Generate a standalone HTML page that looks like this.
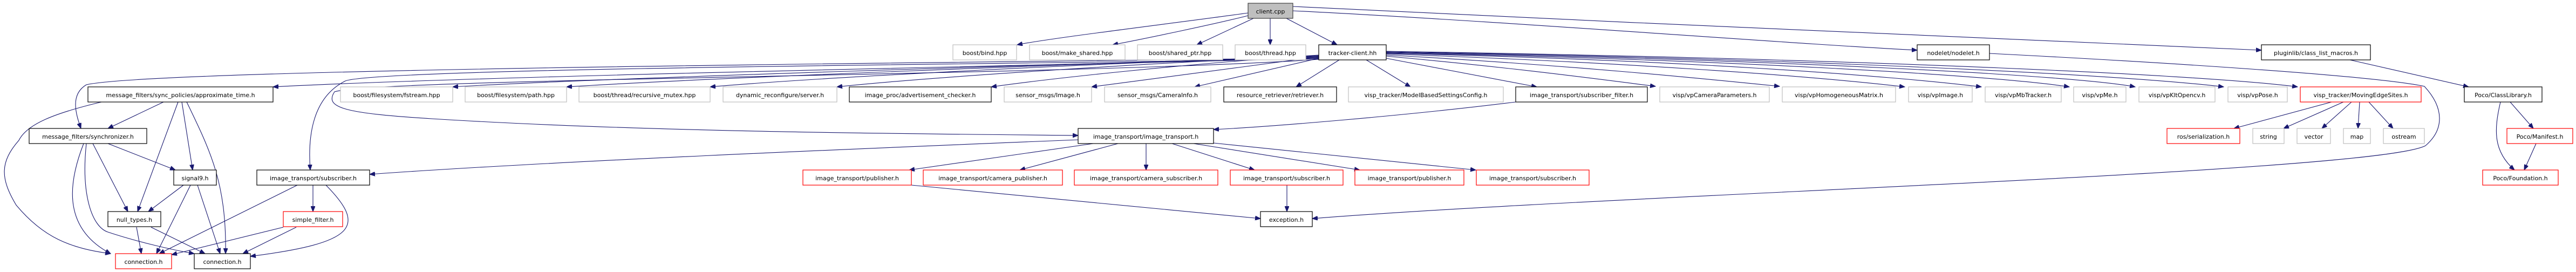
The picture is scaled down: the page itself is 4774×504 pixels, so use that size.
<!DOCTYPE html>
<html><head><meta charset="utf-8"><style>
html,body{margin:0;padding:0;background:#fff;width:4774px;height:504px;overflow:hidden}
svg{display:block}
text{font-family:"DejaVu Sans","Liberation Sans",sans-serif;font-size:11px;fill:#000}
.g{fill:#fff;stroke:#bfbfbf;stroke-width:1.2}
.b{fill:#fff;stroke:#000;stroke-width:1.2}
.r{fill:#fff;stroke:#ff0000;stroke-width:1.2}
.c{fill:#bfbfbf;stroke:#404040;stroke-width:1.2}
.e path{fill:none;stroke:#191970;stroke-width:1.1;marker-end:url(#a)}
</style></head><body>
<svg width="4774" height="504" viewBox="0 0 4774 504" xmlns="http://www.w3.org/2000/svg">
<defs><marker id="a" markerUnits="userSpaceOnUse" markerWidth="11" markerHeight="8" refX="10" refY="4" orient="auto"><path d="M0,0 L10,4 L0,8 z" fill="#191970" stroke="#191970"/></marker></defs>
<g class="e">
<!-- client.cpp -->
<path d="M2313,24 C2200,40 1950,70 1885,83"/>
<path d="M2313,29 C2250,45 2120,72 2062,83"/>
<path d="M2323,34 L2218,83"/>
<path d="M2354,34 L2354,83"/>
<path d="M2384,34 L2478,83"/>
<path d="M2396,20 C2800,40 3300,80 3553,93"/>
<path d="M2396,12 C3000,40 3800,80 4191,93"/>
<!-- tracker-client left -->
<path d="M2444,108 C2000,120 900,140 506,161"/>
<path d="M2444,107 C2000,115 300,125 160,157 C130,175 140,210 150,238"/>
<path d="M2444,109 C2000,118 700,125 640,150 C580,180 570,250 575,315"/>
<path d="M2444,110 C2000,140 700,145 620,170 C600,200 640,210 800,220 C1200,245 1700,248 1998,251"/>
<path d="M2444,106 C2000,118 1100,145 839,161"/>
<path d="M2444,105 C2000,118 1300,145 1050,161"/>
<path d="M2444,104 C2000,118 1500,145 1316,161"/>
<path d="M2444,103 C2100,118 1700,145 1551,161"/>
<path d="M2444,102 C2200,118 1950,145 1837,161"/>
<path d="M2444,105 C2300,125 2100,150 2023,161"/>
<path d="M2444,108 C2350,130 2260,150 2214,161"/>
<path d="M2482,111 L2402,161"/>
<path d="M2532,111 L2614,161"/>
<path d="M2569,108 L2848,161"/>
<path d="M2569,104 C2800,125 2950,145 3068,160"/>
<path d="M2569,102 C2900,120 3150,145 3298,160"/>
<path d="M2569,100 C3000,115 3350,140 3530,161"/>
<path d="M2569,99 C3100,110 3500,140 3672,161"/>
<path d="M2569,98 C3200,110 3700,140 3835,161"/>
<path d="M2569,97 C3300,110 3850,140 3957,161"/>
<path d="M2569,96 C3400,110 3950,140 4121,161"/>
<path d="M2569,95 C3500,110 4100,140 4258,161"/>
<!-- nodelet -> exception -->
<path d="M3687,99 C4000,115 4400,140 4493,160 C4530,200 4530,240 4495,270 C4400,320 3000,360 2432,405"/>
<!-- pluginlib / Poco -->
<path d="M4355,111 L4575,161"/>
<path d="M4652,189 L4695,238"/>
<path d="M4634,189 C4622,240 4620,280 4660,315"/>
<path d="M4700,266 L4678,315"/>
<!-- MovingEdgeSites -->
<path d="M4321,189 L4140,238"/>
<path d="M4343,189 L4232,238"/>
<path d="M4358,189 L4303,238"/>
<path d="M4373,189 L4370,238"/>
<path d="M4390,189 L4435,238"/>
<!-- image_transport -->
<path d="M2809,189 C2600,215 2350,235 2249,240"/>
<path d="M2026,266 L1685,315"/>
<path d="M2072,266 L1890,315"/>
<path d="M2124,266 L2124,315"/>
<path d="M2172,266 L2325,315"/>
<path d="M2212,266 L2520,315"/>
<path d="M2249,265 L2735,315"/>
<path d="M1998,259 C1600,275 1000,300 685,323"/>
<path d="M1689,343 L2336,405"/>
<path d="M2385,343 L2385,392"/>
<!-- left cluster -->
<path d="M303,189 L200,238"/>
<path d="M330,189 L255,392"/>
<path d="M337,189 L357,315"/>
<path d="M346,189 C390,280 420,340 418,470"/>
<path d="M188,189 C100,210 50,230 35,260 C0,300 0,330 30,380 C80,440 130,460 205,470"/>
<path d="M200,266 L325,315"/>
<path d="M172,266 L237,392"/>
<path d="M155,266 C130,330 110,420 205,470"/>
<path d="M160,266 C150,360 170,420 200,430 C260,450 330,465 360,470"/>
<path d="M340,343 L275,392"/>
<path d="M353,343 L290,470"/>
<path d="M366,343 L408,470"/>
<path d="M253,421 L262,470"/>
<path d="M280,421 L380,470"/>
<path d="M580,343 L580,392"/>
<path d="M551,343 L295,470"/>
<path d="M604,343 C680,420 660,450 464,475"/>
<path d="M525,421 L318,472"/>
<path d="M549,421 L450,470"/>
</g>
<g text-anchor="middle">
<rect class="c" x="2313" y="6" width="83" height="28"/><text x="2354.5" y="25">client.cpp</text>
<rect class="g" x="1766" y="83" width="118" height="28"/><text x="1825" y="102">boost/bind.hpp</text>
<rect class="g" x="1908" y="83" width="177" height="28"/><text x="1996.5" y="102">boost/make_shared.hpp</text>
<rect class="g" x="2108" y="83" width="158" height="28"/><text x="2187" y="102">boost/shared_ptr.hpp</text>
<rect class="g" x="2289" y="83" width="131" height="28"/><text x="2354.5" y="102">boost/thread.hpp</text>
<rect class="b" x="2444" y="83" width="125" height="28"/><text x="2506.5" y="102">tracker-client.hh</text>
<rect class="b" x="3553" y="83" width="134" height="28"/><text x="3620" y="102">nodelet/nodelet.h</text>
<rect class="b" x="4191" y="83" width="202" height="28"/><text x="4292" y="102">pluginlib/class_list_macros.h</text>

<rect class="b" x="163" y="161" width="343" height="28"/><text x="334.5" y="180">message_filters/sync_policies/approximate_time.h</text>
<rect class="g" x="631" y="161" width="208" height="28"/><text x="735" y="180">boost/filesystem/fstream.hpp</text>
<rect class="g" x="862" y="161" width="188" height="28"/><text x="956" y="180">boost/filesystem/path.hpp</text>
<rect class="g" x="1073" y="161" width="243" height="28"/><text x="1194.5" y="180">boost/thread/recursive_mutex.hpp</text>
<rect class="g" x="1340" y="161" width="211" height="28"/><text x="1445.5" y="180">dynamic_reconfigure/server.h</text>
<rect class="b" x="1574" y="161" width="263" height="28"/><text x="1705.5" y="180">image_proc/advertisement_checker.h</text>
<rect class="g" x="1861" y="161" width="162" height="28"/><text x="1942" y="180">sensor_msgs/Image.h</text>
<rect class="g" x="2047" y="161" width="197" height="28"/><text x="2145.5" y="180">sensor_msgs/CameraInfo.h</text>
<rect class="b" x="2268" y="161" width="209" height="28"/><text x="2372.5" y="180">resource_retriever/retriever.h</text>
<rect class="g" x="2499" y="161" width="287" height="28"/><text x="2642.5" y="180">visp_tracker/ModelBasedSettingsConfig.h</text>
<rect class="b" x="2809" y="161" width="244" height="28"/><text x="2931" y="180">image_transport/subscriber_filter.h</text>
<rect class="g" x="3076" y="161" width="203" height="28"/><text x="3177.5" y="180">visp/vpCameraParameters.h</text>
<rect class="g" x="3303" y="161" width="210" height="28"/><text x="3408" y="180">visp/vpHomogeneousMatrix.h</text>
<rect class="g" x="3537" y="161" width="118" height="28"/><text x="3596" y="180">visp/vpImage.h</text>
<rect class="g" x="3679" y="161" width="141" height="28"/><text x="3749.5" y="180">visp/vpMbTracker.h</text>
<rect class="g" x="3843" y="161" width="97" height="28"/><text x="3891.5" y="180">visp/vpMe.h</text>
<rect class="g" x="3964" y="161" width="141" height="28"/><text x="4034.5" y="180">visp/vpKltOpencv.h</text>
<rect class="g" x="4129" y="161" width="110" height="28"/><text x="4184" y="180">visp/vpPose.h</text>
<rect class="r" x="4263" y="161" width="224" height="28"/><text x="4375" y="180">visp_tracker/MovingEdgeSites.h</text>
<rect class="b" x="4567" y="161" width="144" height="28"/><text x="4639" y="180">Poco/ClassLibrary.h</text>

<rect class="b" x="54" y="238" width="218" height="28"/><text x="163" y="257">message_filters/synchronizer.h</text>
<rect class="b" x="1998" y="238" width="251" height="28"/><text x="2123.5" y="257">image_transport/image_transport.h</text>
<rect class="r" x="4016" y="238" width="135" height="28"/><text x="4083.5" y="257">ros/serialization.h</text>
<rect class="g" x="4175" y="238" width="58" height="28"/><text x="4204" y="257">string</text>
<rect class="g" x="4257" y="238" width="62" height="28"/><text x="4288" y="257">vector</text>
<rect class="g" x="4343" y="238" width="50" height="28"/><text x="4368" y="257">map</text>
<rect class="g" x="4417" y="238" width="76" height="28"/><text x="4455" y="257">ostream</text>
<rect class="r" x="4646" y="238" width="122" height="28"/><text x="4707" y="257">Poco/Manifest.h</text>

<rect class="b" x="322" y="315" width="79" height="28"/><text x="361.5" y="334">signal9.h</text>
<rect class="b" x="476" y="315" width="209" height="28"/><text x="580.5" y="334">image_transport/subscriber.h</text>
<rect class="r" x="1488" y="315" width="201" height="28"/><text x="1588.5" y="334">image_transport/publisher.h</text>
<rect class="r" x="1711" y="315" width="258" height="28"/><text x="1840" y="334">image_transport/camera_publisher.h</text>
<rect class="r" x="1991" y="315" width="266" height="28"/><text x="2124" y="334">image_transport/camera_subscriber.h</text>
<rect class="r" x="2280" y="315" width="209" height="28"/><text x="2384.5" y="334">image_transport/subscriber.h</text>
<rect class="r" x="2511" y="315" width="202" height="28"/><text x="2612" y="334">image_transport/publisher.h</text>
<rect class="r" x="2736" y="315" width="209" height="28"/><text x="2840.5" y="334">image_transport/subscriber.h</text>
<rect class="r" x="4601" y="315" width="140" height="28"/><text x="4671" y="334">Poco/Foundation.h</text>

<rect class="b" x="200" y="392" width="98" height="28"/><text x="249" y="411">null_types.h</text>
<rect class="r" x="525" y="392" width="110" height="28"/><text x="580" y="411">simple_filter.h</text>
<rect class="b" x="2336" y="392" width="96" height="28"/><text x="2384" y="411">exception.h</text>

<rect class="r" x="214" y="470" width="104" height="28"/><text x="266" y="489">connection.h</text>
<rect class="b" x="360" y="470" width="104" height="28"/><text x="412" y="489">connection.h</text>
</g>
</svg>
</body></html>
